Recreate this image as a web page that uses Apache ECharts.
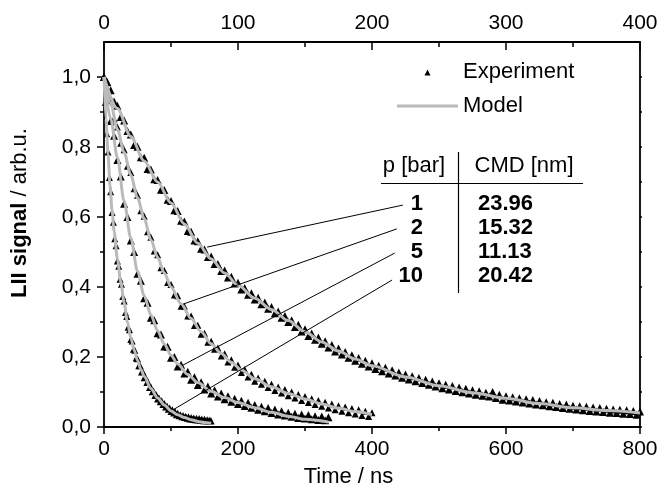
<!DOCTYPE html>
<html>
<head>
<meta charset="utf-8">
<script src="https://cdn.jsdelivr.net/npm/echarts@6/dist/echarts.min.js"></script>
<style>
html,body{margin:0;padding:0;background:#fff;}
#chart{width:658px;height:492px;}
</style>
</head>
<body>
<div id="chart"></div>
<script>
// ---------- data (time in ns, signal in arb.u.) ----------
const expA = [[0,1.0],[5,0.985],[10,0.962],[15,0.93],[20,0.918],[25,0.886],[30,0.876],[35,0.846],[40,0.836],[45,0.806],[50,0.801],[55,0.771],[60,0.769],[65,0.737],[70,0.736],[75,0.708],[80,0.706],[85,0.678],[90,0.677],[95,0.649],[100,0.646],[105,0.619],[110,0.617],[115,0.589],[120,0.587],[125,0.56],[130,0.558],[135,0.533],[140,0.531],[145,0.509],[150,0.507],[155,0.486],[160,0.487],[165,0.466],[170,0.466],[175,0.446],[180,0.447],[185,0.427],[190,0.429],[195,0.41],[200,0.412],[205,0.393],[210,0.397],[215,0.378],[220,0.382],[225,0.364],[230,0.369],[235,0.351],[240,0.356],[245,0.338],[250,0.343],[255,0.325],[260,0.33],[265,0.312],[270,0.317],[275,0.3],[280,0.305],[285,0.286],[290,0.292],[295,0.273],[300,0.279],[305,0.26],[310,0.267],[315,0.249],[320,0.256],[325,0.238],[330,0.245],[335,0.227],[340,0.234],[345,0.216],[350,0.224],[355,0.207],[360,0.214],[365,0.198],[370,0.205],[375,0.189],[380,0.197],[385,0.181],[390,0.189],[395,0.173],[400,0.182],[405,0.166],[410,0.175],[415,0.159],[420,0.169],[425,0.153],[430,0.162],[435,0.147],[440,0.156],[445,0.141],[450,0.15],[455,0.136],[460,0.145],[465,0.131],[470,0.14],[475,0.126],[480,0.135],[485,0.121],[490,0.13],[495,0.116],[500,0.125],[505,0.111],[510,0.121],[515,0.107],[520,0.117],[525,0.103],[530,0.113],[535,0.099],[540,0.109],[545,0.096],[550,0.105],[555,0.092],[560,0.102],[565,0.089],[570,0.098],[575,0.087],[580,0.1],[585,0.083],[590,0.092],[595,0.078],[600,0.088],[605,0.076],[610,0.085],[615,0.073],[620,0.082],[625,0.07],[630,0.079],[635,0.067],[640,0.077],[645,0.064],[650,0.074],[655,0.062],[660,0.071],[665,0.059],[670,0.069],[675,0.057],[680,0.066],[685,0.054],[690,0.064],[695,0.052],[700,0.061],[705,0.05],[710,0.059],[715,0.048],[720,0.058],[725,0.046],[730,0.056],[735,0.044],[740,0.054],[745,0.043],[750,0.052],[755,0.041],[760,0.05],[765,0.04],[770,0.049],[775,0.038],[780,0.048],[785,0.037],[790,0.046],[795,0.035],[800,0.044]];
const expB = [[0,1.0],[5,0.955],[10,0.932],[15,0.881],[20,0.857],[25,0.811],[30,0.792],[35,0.745],[40,0.727],[45,0.681],[50,0.662],[55,0.618],[60,0.602],[65,0.558],[70,0.542],[75,0.503],[80,0.492],[85,0.455],[90,0.447],[95,0.413],[100,0.407],[105,0.377],[110,0.375],[115,0.345],[120,0.345],[125,0.317],[130,0.317],[135,0.29],[140,0.291],[145,0.265],[150,0.268],[155,0.242],[160,0.245],[165,0.222],[170,0.226],[175,0.203],[180,0.209],[185,0.186],[190,0.192],[195,0.171],[200,0.177],[205,0.156],[210,0.164],[215,0.143],[220,0.151],[225,0.131],[230,0.14],[235,0.122],[240,0.131],[245,0.113],[250,0.122],[255,0.104],[260,0.114],[265,0.097],[270,0.107],[275,0.089],[280,0.1],[285,0.083],[290,0.093],[295,0.076],[300,0.087],[305,0.07],[310,0.081],[315,0.064],[320,0.076],[325,0.059],[330,0.071],[335,0.054],[340,0.066],[345,0.049],[350,0.061],[355,0.045],[360,0.057],[365,0.041],[370,0.053],[375,0.037],[380,0.049],[385,0.033],[390,0.045],[395,0.03],[400,0.041]];
const expC = [[0,1.0],[5,0.946],[10,0.874],[15,0.832],[20,0.763],[25,0.716],[30,0.638],[35,0.6],[40,0.533],[45,0.5],[50,0.438],[55,0.418],[60,0.368],[65,0.355],[70,0.312],[75,0.305],[80,0.268],[85,0.264],[90,0.23],[95,0.229],[100,0.198],[105,0.2],[110,0.173],[115,0.178],[120,0.153],[125,0.158],[130,0.135],[135,0.142],[140,0.12],[145,0.128],[150,0.107],[155,0.116],[160,0.096],[165,0.105],[170,0.087],[175,0.096],[180,0.079],[185,0.088],[190,0.072],[195,0.081],[200,0.066],[205,0.075],[210,0.06],[215,0.069],[220,0.055],[225,0.063],[230,0.049],[235,0.058],[240,0.045],[245,0.054],[250,0.04],[255,0.05],[260,0.036],[265,0.045],[270,0.033],[275,0.041],[280,0.029],[285,0.038],[290,0.026],[295,0.036],[300,0.024],[305,0.034],[310,0.022],[315,0.031],[320,0.02],[325,0.03],[330,0.019],[335,0.028]];
const expD = [[0,1.0],[2,0.928],[4,0.838],[6,0.786],[8,0.713],[10,0.672],[12,0.613],[14,0.585],[16,0.538],[18,0.518],[20,0.474],[22,0.459],[24,0.422],[26,0.408],[28,0.373],[30,0.36],[32,0.327],[34,0.316],[36,0.285],[38,0.278],[40,0.25],[42,0.246],[44,0.222],[46,0.219],[48,0.197],[50,0.195],[52,0.175],[54,0.175],[56,0.157],[58,0.158],[60,0.141],[62,0.142],[64,0.127],[66,0.128],[68,0.113],[70,0.114],[72,0.101],[74,0.103],[76,0.09],[78,0.092],[80,0.08],[82,0.083],[84,0.072],[86,0.075],[88,0.064],[90,0.067],[92,0.057],[94,0.06],[96,0.051],[98,0.054],[100,0.044],[102,0.049],[104,0.04],[106,0.044],[108,0.035],[110,0.039],[112,0.032],[114,0.035],[116,0.029],[118,0.033],[120,0.027],[122,0.031],[124,0.025],[126,0.029],[128,0.023],[130,0.027],[132,0.022],[134,0.026],[136,0.021],[138,0.025],[140,0.02],[142,0.024],[144,0.019],[146,0.023],[148,0.018],[150,0.022],[152,0.018],[154,0.021],[156,0.017],[158,0.02],[160,0.017]];

const modelA = [[0,1.0],[20,0.91],[40,0.83],[60,0.76],[80,0.70],[100,0.64],[120,0.58],[140,0.525],[160,0.48],[180,0.44],[200,0.405],[225,0.368],[250,0.336],[275,0.304],[300,0.272],[325,0.243],[350,0.217],[375,0.194],[400,0.175],[450,0.143],[500,0.118],[550,0.098],[600,0.082],[650,0.067],[700,0.055],[750,0.047],[800,0.040]];
const modelB = [[0,1.0],[10,0.925],[20,0.85],[30,0.785],[40,0.72],[50,0.655],[60,0.595],[70,0.535],[80,0.485],[90,0.44],[100,0.40],[115,0.352],[130,0.31],[145,0.272],[160,0.238],[175,0.21],[190,0.185],[205,0.163],[225,0.138],[250,0.115],[275,0.096],[300,0.080],[325,0.066],[350,0.054],[375,0.044],[400,0.035]];
const modelC = [[0,1.0],[10,0.88],[20,0.77],[30,0.645],[40,0.54],[50,0.445],[60,0.375],[70,0.32],[80,0.275],[90,0.237],[100,0.205],[110,0.18],[125,0.15],[140,0.127],[160,0.102],[180,0.084],[200,0.07],[225,0.055],[250,0.042],[275,0.031],[300,0.022],[335,0.014]];
const modelD = [[0,1.0],[3,0.88],[6,0.78],[9,0.69],[12,0.62],[15,0.56],[20,0.48],[25,0.415],[30,0.355],[35,0.30],[40,0.255],[45,0.22],[50,0.19],[55,0.165],[60,0.145],[70,0.11],[80,0.083],[90,0.063],[100,0.046],[110,0.035],[120,0.027],[130,0.021],[140,0.016],[150,0.013],[160,0.011]];

// table annotation
const pressures = ['1', '2', '5', '10'];
const cmdValues = ['23.96', '15.32', '11.13', '20.42'];
// leader lines: [label end (time, signal), curve end (time, signal)]
const leaders = [
  [[446, 0.634], [154, 0.514]],
  [[437, 0.566], [118, 0.351]],
  [[434, 0.497], [118, 0.177]],
  [[430, 0.420], [103, 0.049]]
];

const bottomTicks = { min: 0, max: 800, interval: 200 };
const topTicks = { min: 0, max: 400, interval: 100 };
const yMajor = [0, 0.2, 0.4, 0.6, 0.8, 1.0];
const yMinor = [0.1, 0.3, 0.5, 0.7, 0.9];
const yAll = [0, 0.1, 0.2, 0.3, 0.4, 0.5, 0.6, 0.7, 0.8, 0.9, 1.0];

// ---------- chart ----------
const FONT = '"Liberation Sans", Arial, Helvetica, sans-serif';
const chart = echarts.init(document.getElementById('chart'), null, { renderer: 'canvas' });

const GRID = { left: 104, right: 18, top: 42, bottom: 65 };
const axisLine = { show: true, onZero: false, lineStyle: { color: '#000', width: 1.8 } };
const GRAY = '#bababa';

const expSeries = [expA, expB, expC, expD].map((d, i) => ({
  name: 'Experiment',
  type: 'scatter',
  data: d,
  symbol: 'triangle',
  symbolSize: [8, 7, 8, 7][i],
  itemStyle: { color: '#000', opacity: 1 },
  silent: true,
  z: 2
}));
const modelSeries = [modelA, modelB, modelC, modelD].map((d, i) => ({
  name: 'Model',
  type: 'line',
  data: d,
  showSymbol: false,
  symbol: 'none',
  smooth: 0.3,
  smoothMonotone: 'x',
  lineStyle: { color: GRAY, width: 3 },
  itemStyle: { color: GRAY },
  silent: true,
  z: 3
}));
modelSeries[0].markLine = {
  silent: true,
  symbol: ['none', 'none'],
  animation: false,
  label: { show: false },
  lineStyle: { color: '#000', width: 1, type: 'solid' },
  emphasis: { disabled: true },
  data: leaders.map(l => [{ coord: l[0] }, { coord: l[1] }])
};

const graphics = [];
const rowY = [204, 228, 252, 276];
const txt = (text, x, y, align, bold) => ({
  type: 'text', x: x, y: y, silent: true,
  style: {
    text: text, fill: '#000',
    font: (bold ? 'bold ' : '') + '22px ' + FONT,
    align: align, verticalAlign: 'middle',
    textAlign: align, textVerticalAlign: 'middle'
  }
});
graphics.push(txt('p [bar]', 414, 166, 'center', false));
graphics.push(txt('CMD [nm]', 524, 166, 'center', false));
pressures.forEach((p, i) => graphics.push(txt(p, 423, rowY[i], 'right', true)));
cmdValues.forEach((v, i) => graphics.push(txt(v, 478, rowY[i], 'left', true)));
graphics.push({ type: 'line', silent: true, shape: { x1: 381, y1: 183.5, x2: 583, y2: 183.5 }, style: { stroke: '#000', lineWidth: 1.2 } });
graphics.push({ type: 'line', silent: true, shape: { x1: 458.5, y1: 152, x2: 458.5, y2: 293 }, style: { stroke: '#000', lineWidth: 1.2 } });

const option = {
  animation: false,
  backgroundColor: '#fff',
  textStyle: { fontFamily: FONT },
  grid: Object.assign({ containLabel: false, outerBoundsMode: 'none' }, GRID),
  legend: {
    orient: 'vertical',
    left: 392,
    top: 56,
    itemWidth: 61,
    itemHeight: 7,
    itemGap: 12,
    selectedMode: false,
    textStyle: { fontSize: 22, color: '#000', fontFamily: FONT },
    data: [
      { name: 'Experiment', icon: 'path://M0,7L0,7M27.5,7L30.5,1L33.5,7ZM61,0L61,0', itemStyle: { color: '#000' } },
      { name: 'Model', icon: 'path://M0,2L61,2L61,5L0,5ZM0,0L0,0M0,7L0,7', itemStyle: { color: GRAY } }
    ]
  },
  xAxis: [
    {
      type: 'value', position: 'bottom',
      min: bottomTicks.min, max: bottomTicks.max, interval: bottomTicks.interval,
      name: 'Time / ns', nameLocation: 'middle', nameGap: 39,
      nameTextStyle: { fontSize: 22, color: '#000', padding: [0, 47, 0, 0] },
      axisLine: axisLine,
      axisTick: { show: true, inside: false, length: 7, lineStyle: { color: '#000', width: 1.5 } },
      minorTick: { show: true, splitNumber: 2, length: 4, lineStyle: { color: '#000', width: 1.5 } },
      axisLabel: { fontSize: 21, color: '#000', margin: 12 },
      splitLine: { show: false }
    },
    {
      type: 'value', position: 'top',
      min: topTicks.min, max: topTicks.max, interval: topTicks.interval,
      axisLine: axisLine,
      axisTick: { show: true, inside: true, length: 8, lineStyle: { color: '#000', width: 1.5 } },
      minorTick: { show: true, splitNumber: 2, length: 5, lineStyle: { color: '#000', width: 1.5 } },
      axisLabel: { fontSize: 21, color: '#000', margin: 8 },
      splitLine: { show: false }
    }
  ],
  yAxis: [
    {
      type: 'value', position: 'left',
      min: 0, max: 1.1,
      name: '{b|LII signal} / arb.u.', nameLocation: 'middle', nameGap: 73,
      nameTextStyle: {
        fontSize: 22, color: '#000', padding: [0, 0, 0, 43],
        rich: { b: { fontSize: 22, fontWeight: 'bold', color: '#000' } }
      },
      axisLine: axisLine,
      axisTick: { show: true, inside: false, length: 7, customValues: yMajor, lineStyle: { color: '#000', width: 1.5 } },
      axisLabel: {
        fontSize: 21, color: '#000', margin: 13, customValues: yMajor,
        formatter: v => v.toFixed(1).replace('.', ',')
      },
      splitLine: { show: false }
    },
    {
      type: 'value', position: 'left',
      min: 0, max: 1.1,
      axisLine: { show: false },
      axisTick: { show: true, inside: false, length: 4, customValues: yMinor, lineStyle: { color: '#000', width: 1.5 } },
      axisLabel: { show: false },
      splitLine: { show: false }
    },
    {
      type: 'value', position: 'right',
      min: 0, max: 1.1,
      axisLine: axisLine,
      axisTick: { show: true, inside: false, length: 2, customValues: yAll, lineStyle: { color: '#000', width: 1.5 } },
      axisLabel: { show: false },
      splitLine: { show: false }
    }
  ],
  series: expSeries.concat(modelSeries),
  graphic: { elements: graphics }
};
chart.setOption(option);
</script>
</body>
</html>
